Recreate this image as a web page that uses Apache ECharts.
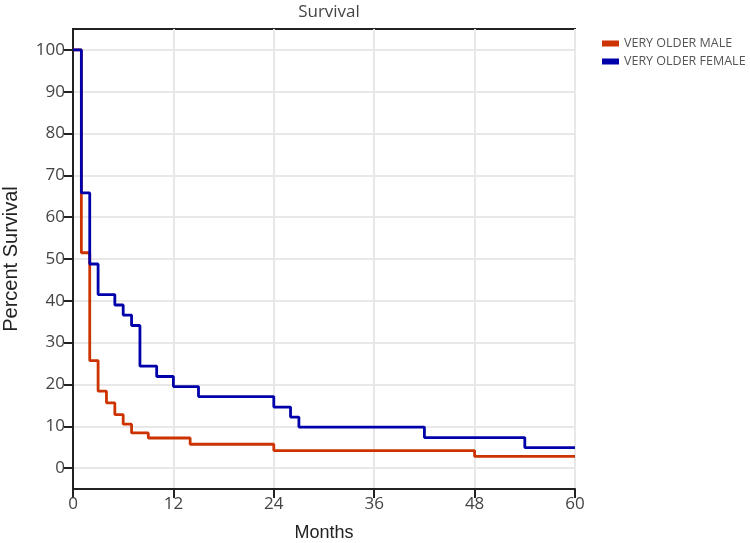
<!DOCTYPE html>
<html>
<head>
<meta charset="utf-8">
<script src="https://cdn.jsdelivr.net/npm/echarts@6/dist/echarts.min.js"></script>
<style>html,body{margin:0;padding:0;background:#fff}#c{width:750px;height:543px}</style>
</head>
<body>
<div id="c"></div>
<script>
// Kaplan-Meier steps (month, percent survival)
var monthsMale = [0, 1, 2, 3, 4, 5, 6, 7, 9, 14, 24, 48, 60];
var survMale   = [100, 51.5, 25.7, 18.4, 15.6, 12.8, 10.5, 8.4, 7.2, 5.7, 4.2, 2.8, 2.8];
var monthsFemale = [0, 1, 2, 3, 5, 6, 7, 8, 10, 12, 15, 24, 26, 27, 42, 54, 60];
var survFemale   = [100, 65.8, 48.8, 41.5, 39.0, 36.6, 34.1, 24.4, 21.9, 19.5, 17.1, 14.6, 12.2, 9.8, 7.3, 4.9, 4.9];
var seriesNames = ['VERY OLDER MALE', 'VERY OLDER FEMALE'];
var xTicks = [0, 12, 24, 36, 48, 60];
var yTicks = [0, 10, 20, 30, 40, 50, 60, 70, 80, 90, 100];

function pairs(xs, ys) { return xs.map(function (x, i) { return [x, ys[i]]; }); }

var font = '"Open Sans", sans-serif';
var chart = echarts.init(document.getElementById('c'));
chart.setOption({
  animation: false,
  title: {
    text: 'Survival', left: 324, textAlign: 'center', top: -1,
    textStyle: { fontFamily: font, fontSize: 17, fontWeight: 'normal', color: '#444' }
  },
  legend: {
    orient: 'vertical', left: 597, top: 32, icon: 'rect',
    itemWidth: 17, itemHeight: 6, itemGap: 5,
    textStyle: { fontFamily: font, fontSize: 12.5, color: '#555' },
    data: seriesNames
  },
  grid: {
    left: 73, right: 175, top: 29, bottom: 54, outerBoundsMode: 'none', containLabel: false,
    show: true, borderColor: '#222', borderWidth: 2, backgroundColor: 'transparent'
  },
  xAxis: {
    type: 'value', min: 0, max: 60, interval: 12,
    name: 'Months', nameLocation: 'middle', nameGap: 35,
    nameTextStyle: { fontFamily: 'Liberation Sans, Arial', fontSize: 18, color: '#222' },
    axisLine: { show: true, onZero: false, lineStyle: { color: '#222', width: 2 } },
    axisTick: { show: true, inside: false, length: 9, lineStyle: { color: '#222', width: 2 }, customValues: xTicks },
    axisLabel: { fontFamily: font, fontSize: 17, color: '#444', margin: 7, customValues: xTicks },
    splitLine: { show: true, lineStyle: { color: '#e8e8e8', width: 2 } }
  },
  yAxis: {
    type: 'value', min: -5, max: 105,
    name: 'Percent Survival', nameLocation: 'middle', nameGap: 52,
    nameTextStyle: { fontFamily: 'Liberation Sans, Arial', fontSize: 20, color: '#222' },
    axisLine: { show: true, onZero: false, lineStyle: { color: '#222', width: 2 } },
    axisTick: { show: true, inside: false, length: 9, lineStyle: { color: '#222', width: 2 }, customValues: yTicks },
    axisLabel: { fontFamily: font, fontSize: 17, color: '#444', margin: 8, customValues: yTicks },
    splitLine: { show: true, lineStyle: { color: '#e8e8e8', width: 2 } }
  },
  series: [
    {
      name: seriesNames[0], type: 'line', step: 'end', symbol: 'none',
      data: pairs(monthsMale, survMale),
      lineStyle: { color: '#cc3300', width: 2.8 }, itemStyle: { color: '#cc3300' }
    },
    {
      name: seriesNames[1], type: 'line', step: 'end', symbol: 'none',
      data: pairs(monthsFemale, survFemale),
      lineStyle: { color: '#0000aa', width: 2.8 }, itemStyle: { color: '#0000aa' }
    }
  ]
});
</script>
</body>
</html>
